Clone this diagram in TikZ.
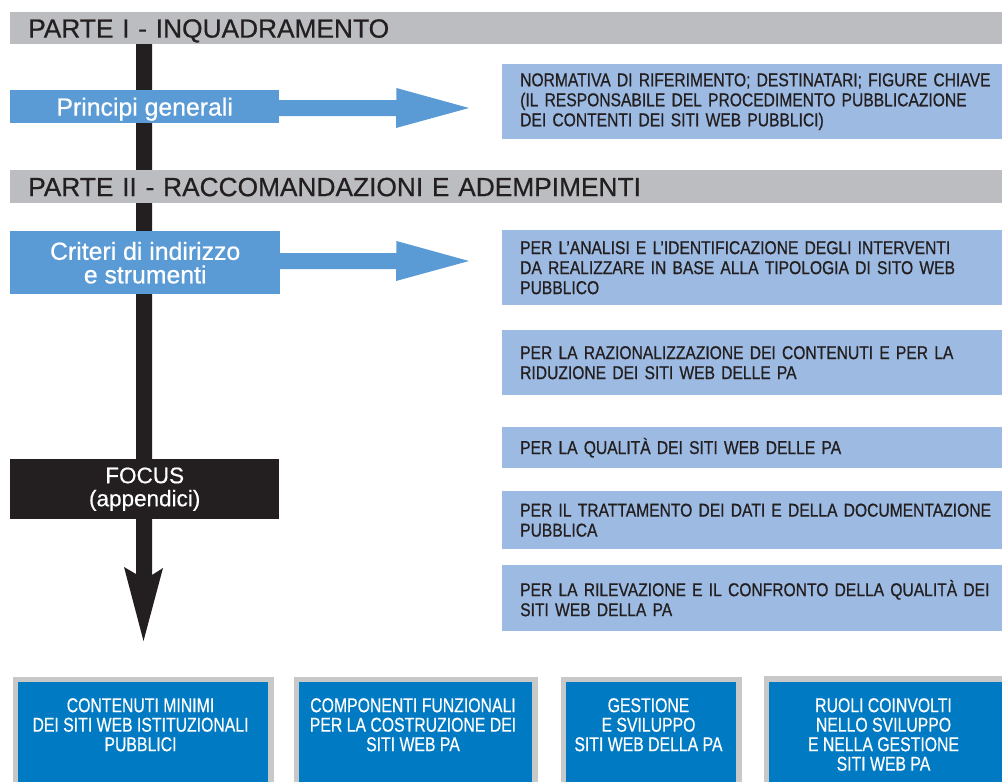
\documentclass[tikz,border=0pt]{standalone}
\usepackage{fontspec}
\newfontfamily\hel[FakeBold=0.6]{Liberation Sans}
\newfontfamily\condA[FakeStretch=0.84,FakeBold=0.7]{Liberation Sans}
\newfontfamily\condB[FakeStretch=0.79,FakeBold=0.5]{Liberation Sans}
\definecolor{greybar}{RGB}{188,189,192}
\definecolor{darktxt}{RGB}{35,31,32}
\definecolor{midblue}{RGB}{91,155,213}
\definecolor{lightblue}{RGB}{157,187,226}
\definecolor{deepblue}{RGB}{0,122,194}
\definecolor{bgrey}{RGB}{200,200,200}
\hyphenpenalty=10000
\tikzset{
  hdr/.style={fill=greybar, anchor=north west, inner xsep=18pt, inner ysep=0pt,
    minimum height=#1, text width=956pt, align=left, text=darktxt,
    font=\hel\fontsize{26.3}{28}\selectfont, text height=18.8pt, text depth=0pt},
  bluebox/.style={fill=midblue, anchor=north west, inner sep=0pt, text=white,
    font=\hel\fontsize{24.8}{23.5}\selectfont, align=center},
  focusbox/.style={fill=darktxt, anchor=north west, inner sep=0pt, text=white,
    font=\hel\fontsize{22.5}{23}\selectfont, align=center},
  lbox/.style={fill=lightblue, anchor=north west, inner xsep=18pt, inner ysep=0pt,
    minimum height=#1, text width=560pt, align=left, text=darktxt,
    font=\condA\fontsize{18.6}{20}\selectfont},
  bbox/.style={fill=deepblue, draw=bgrey, line width=5.5pt, anchor=north west,
    inner sep=0pt, minimum height=140pt, minimum width=#1},
  btxt/.style={anchor=north, inner sep=0pt, text=white, align=center,
    font=\condB\fontsize{20}{19.5}\selectfont},
  bluearrow/.style={fill=midblue},
  blackarrow/.style={fill=darktxt}
}
\begin{document}
\begin{tikzpicture}[x=1pt, y=-1pt]
\useasboundingbox (0,0) rectangle (1002,782);
% main vertical arrow
\coordinate (vtop) at (144,12);
\coordinate (vtip) at (143.5,641);
\fill[blackarrow] (vtop) ++(-8,0) -- ++(0,562) -- ++(-12,-7) -- (vtip)
  -- ++(19.5,-73) -- ++(-11,7) -- ++(0,-562) -- cycle;
% headers
\node[hdr=32pt] (h1) at (10,12) {PARTE I - INQUADRAMENTO};
\node[hdr=33pt] (h2) at (10,170) {PARTE II - RACCOMANDAZIONI E ADEMPIMENTI};
% left boxes
\node[bluebox, minimum width=269pt, minimum height=33pt, text height=17.8pt, text depth=0pt] (pg) at (10,90) {Principi generali};
\node[bluebox, minimum width=270pt, minimum height=63pt] (cr) at (10,231) {Criteri di indirizzo\\e strumenti};
\node[focusbox, minimum width=269pt, minimum height=60pt] (fo) at (10,459) {FOCUS\\(appendici)};
% blue arrows
\coordinate (a1) at (469,108);
\coordinate (a2) at (469,261);
\fill[bluearrow] (pg.east |- a1) ++(-1,-8) -- ++(118,0) -- ++(0,-12) -- (a1)
  -- ++(-73,20) -- ++(0,-12) -- ++(-118,0) -- cycle;
\fill[bluearrow] (cr.east |- a2) ++(-1,-8) -- ++(117,0) -- ++(0,-12) -- (a2)
  -- ++(-73,20) -- ++(0,-12) -- ++(-117,0) -- cycle;
% light boxes
\node[lbox=75pt] (b1) at (502,64) {NORMATIVA DI RIFERIMENTO; DESTINATARI; FIGURE CHIAVE\\(IL RESPONSABILE DEL PROCEDIMENTO PUBBLICAZIONE\\DEI CONTENTI DEI SITI WEB PUBBLICI)};
\node[lbox=75pt] (b2) at (502,230) {PER L’ANALISI E L’IDENTIFICAZIONE DEGLI INTERVENTI\\DA REALIZZARE IN BASE ALLA TIPOLOGIA DI SITO WEB\\PUBBLICO};
\node[lbox=65pt] (b3) at (502,330) {PER LA RAZIONALIZZAZIONE DEI CONTENUTI E PER LA\\RIDUZIONE DEI SITI WEB DELLE PA};
\node[lbox=41pt] (b4) at (502,427) {PER LA QUALITÀ DEI SITI WEB DELLE PA};
\node[lbox=58pt] (b5) at (502,491) {PER IL TRATTAMENTO DEI DATI E DELLA DOCUMENTAZIONE\\PUBBLICA};
\node[lbox=66pt] (b6) at (502,565) {PER LA RILEVAZIONE E IL CONFRONTO DELLA QUALITÀ DEI\\SITI WEB DELLA PA};
% bottom boxes
\node[bbox=255.5pt] (c1) at (12.75,676.75) {};
\node[bbox=238.5pt] (c2) at (293.75,676.75) {};
\node[bbox=175.5pt] (c3) at (560.75,676.75) {};
\node[bbox=245pt] (c4) at (763.75,676.25) {};
\node[btxt] (t1) at (140.5,698) {CONTENUTI MINIMI\\DEI SITI WEB ISTITUZIONALI\\PUBBLICI};
\node[btxt] (t2) at (413,698) {COMPONENTI FUNZIONALI\\PER LA COSTRUZIONE DEI\\SITI WEB PA};
\node[btxt] (t3) at (648.5,698) {GESTIONE\\E SVILUPPO\\SITI WEB DELLA PA};
\node[btxt] (t4) at (883.5,698) {RUOLI COINVOLTI\\NELLO SVILUPPO\\E NELLA GESTIONE\\SITI WEB PA};
\end{tikzpicture}
\end{document}
